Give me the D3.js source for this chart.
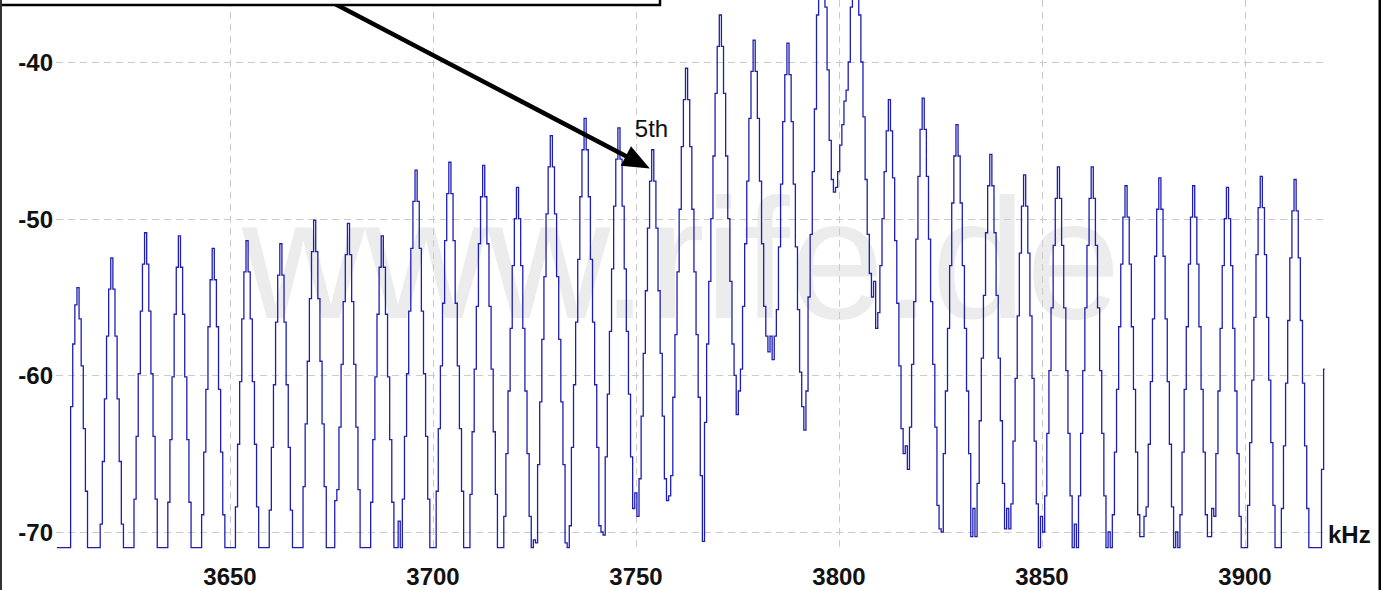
<!DOCTYPE html>
<html><head><meta charset="utf-8">
<script src="https://cdn.jsdelivr.net/npm/d3@7"></script>
<style>html,body{margin:0;padding:0;background:#fff;} svg{display:block;}</style>
</head><body>
<svg id="chart" width="1387" height="590"></svg>
<script>
// ---- data ----
const freqStartKHz = 3607.36;   // first bin of the trace
const freqStepKHz = 0.52044;    // bin spacing
const levelsDb = [
 -71,-71,-71,-71,-71,-71,-71,-62,-58,-55.5,
 -54.4,-56.4,-59.4,-63.4,-67.4,-71,-71,-71,-71,-71,-71,-69.5,-65.5,-61.5,-57.5,-54.5,
 -52.5,-54.5,-57.5,-61.5,-65.5,-69.5,-71,-71,-71,-71,-71,-67.9,-63.9,-59.9,-55.9,-52.9,
 -50.9,-52.9,-55.9,-59.9,-63.9,-67.9,-71,-71,-71,-71,-71,-68.1,-64.1,-60.1,-56.1,-53.1,
 -51.1,-53.1,-56.1,-60.1,-64.1,-68.1,-71,-71,-71,-71,-71,-68.9,-64.9,-60.9,-56.9,-53.9,
 -51.9,-53.9,-56.9,-60.9,-64.9,-68.9,-71,-71,-71,-71,-71,-68.4,-64.4,-60.4,-56.4,-53.4,
 -51.4,-53.4,-56.4,-60.4,-64.4,-68.4,-71,-71,-71,-71,-71,-68.6,-64.6,-60.6,-56.6,-53.6,
 -51.6,-53.6,-56.6,-60.6,-64.6,-68.6,-71,-71,-71,-71,-71,-67.1,-63.1,-59.1,-55.1,-52.1,
 -50.1,-52.1,-55.1,-59.1,-63.1,-67.1,-71,-71,-71,-71,-68,-67.3,-63.3,-59.3,-55.3,-52.3,
 -50.3,-52.3,-55.3,-59.3,-63.3,-67.3,-71,-71,-71,-71,-71,-68.1,-64.1,-60.1,-56.1,-53.1,
 -51.1,-53.1,-56.1,-60.1,-64.1,-68.1,-71,-71,-69.3,-71,-67.9,-63.9,-59.9,-55.9,-51.9,-48.9,
 -46.9,-48.9,-51.9,-55.9,-59.9,-63.9,-67.9,-71,-71,-71,-67.4,-63.4,-59.4,-55.4,-51.4,-48.4,
 -46.4,-48.4,-51.4,-55.4,-59.4,-63.4,-67.4,-71,-71,-71,-67.6,-63.6,-59.6,-55.6,-51.6,-48.6,
 -46.6,-48.6,-51.6,-55.6,-59.6,-63.6,-67.6,-71,-71,-71,-69,-65,-61,-57,-53,-50,
 -48,-50,-53,-57,-61,-65,-69,-71,-70.5,-70.7,-65.7,-61.7,-57.7,-53.7,-49.7,-46.7,
 -44.7,-46.7,-49.7,-53.7,-57.7,-61.7,-65.7,-70.7,-71,-69.6,-64.6,-60.6,-56.6,-52.6,-48.6,-45.6,
 -43.6,-45.6,-48.6,-52.6,-56.6,-60.6,-64.6,-69.6,-70,-70.2,-65.2,-61.2,-57.2,-53.2,-49.2,-46.2,
 -44.2,-46.2,-49.2,-53.2,-57.2,-61.2,-65.2,-68.5,-67.5,-69,-66.6,-62.6,-58.6,-54.6,-50.6,-47.6,
 -45.6,-47.6,-50.6,-54.6,-58.6,-62.6,-66.6,-68,-67.7,-66.4,-61.4,-57.4,-53.4,-49.4,-45.4,-42.4,
 -40.4,-42.4,-45.4,-49.4,-53.4,-57.4,-61.4,-66.4,-70.6,-63,-58,-54,-50,-46,-42,-39,
 -37,-39,-42,-46,-50,-54,-58,-60,-62.5,-61,-59.6,-55.6,-51.6,-47.6,-43.6,-40.6,
 -38.6,-40.6,-43.6,-47.6,-51.6,-55.6,-57.5,-58.5,-57.5,-59,-57.5,-55.8,-51.8,-47.8,-43.8,-40.8,
 -38.8,-40.8,-43.8,-47.8,-51.8,-55.8,-59.8,-62,-63.5,-61,-55,-51,-47,-43,-37,-35,
 -34,-35,-36.5,-40.5,-45,-47.5,-48.3,-48,-47,-45.3,-44,-42.5,-41.8,-40,-36.5,-34.8,
 -34.5,-35.5,-37,-40,-43.5,-47.5,-51,-53.5,-55,-54,-57,-56,-53,-50,-47,-44.4,
 -42.4,-44.4,-47.4,-51.4,-55.4,-59.4,-63.4,-65,-64.5,-66,-63.3,-59.3,-55.3,-51.3,-47.3,-44.3,
 -42.3,-44.3,-47.3,-51.3,-55.3,-59.3,-63.3,-68.3,-69.8,-70,-65,-61,-57,-53,-49,-46,
 -44,-46,-49,-53,-57,-61,-65,-70.3,-68.5,-70.3,-66.9,-62.9,-58.9,-54.9,-50.9,-47.9,
 -45.9,-47.9,-50.9,-54.9,-58.9,-62.9,-66.9,-69.8,-68.5,-69.8,-68.2,-64.2,-60.2,-56.2,-52.2,-49.2,
 -47.2,-49.2,-52.2,-56.2,-60.2,-64.2,-68.2,-71,-69,-70,-67.7,-63.7,-59.7,-55.7,-51.7,-48.7,
 -46.7,-48.7,-51.7,-55.7,-59.7,-63.7,-67.7,-71,-69.5,-71,-67.7,-63.7,-59.7,-55.7,-51.7,-48.7,
 -46.7,-48.7,-51.7,-55.7,-59.7,-63.7,-67.7,-71,-70,-71,-68.9,-64.9,-60.9,-56.9,-52.9,-49.9,
 -47.9,-49.9,-52.9,-56.9,-60.9,-64.9,-68.9,-70.3,-70.3,-69,-68.4,-64.4,-60.4,-56.4,-52.4,-49.4,
 -47.4,-49.4,-52.4,-56.4,-60.4,-64.4,-68.4,-71,-70,-71,-68.9,-64.9,-60.9,-56.9,-52.9,-49.9,
 -47.9,-49.9,-52.9,-56.9,-60.9,-64.9,-68.9,-70.3,-70.3,-68.5,-69,-65,-61,-57,-53,-50,
 -48,-50,-53,-57,-61,-65,-69,-71,-71,-71,-68.3,-64.3,-60.3,-56.3,-52.3,-49.3,
 -47.3,-49.3,-52.3,-56.3,-60.3,-64.3,-68.3,-71,-71,-71,-68.5,-64.5,-60.5,-56.5,-52.5,-49.5,
 -47.5,-49.5,-52.5,-56.5,-60.5,-64.5,-68.5,-71,-71,-71,-71,-71,-71,-66,-59.6
];
const xTickValues = [3650, 3700, 3750, 3800, 3850, 3900];
const yTickValues = [-40, -50, -60, -70];
const yTickLabels = ["-40", "-50", "-60", "-70"];
const xUnitLabel = "kHz";
const markerText = "5th";
const markerTipFreq = 3753.4;
const markerTipDb = -46.8;
const watermarkText = "www.rife.de";

// ---- drawing ----
const svg = d3.select("#chart");
const x = d3.scaleLinear().domain([3650, 3900]).range([230, 1245]);
const y = d3.scaleLinear().domain([-70, -40]).range([532, 62]);
const FONT = "'Liberation Sans', Arial, Helvetica, sans-serif";

svg.append("rect").attr("width", 1387).attr("height", 590).attr("fill", "#fff");

// watermark
svg.append("text").attr("x", 242).attr("y", 318)
  .attr("font-family", FONT).attr("font-size", 170).attr("fill", "#ececec")
  .text(watermarkText);

// grid
const grid = svg.append("g").attr("stroke", "#cbcbcb").attr("stroke-width", 1)
  .attr("stroke-dasharray", "7,5").attr("fill", "none");
grid.selectAll("line.h").data(yTickValues).join("line").attr("class", "h")
  .attr("x1", 56).attr("x2", 1326)
  .attr("y1", d => Math.round(y(d)) + 0.5).attr("y2", d => Math.round(y(d)) + 0.5);
grid.selectAll("line.v").data(xTickValues).join("line").attr("class", "v")
  .attr("x1", d => Math.round(x(d)) + 0.5).attr("x2", d => Math.round(x(d)) + 0.5)
  .attr("y1", 0).attr("y2", 548);

// trace
const pts = levelsDb.map((v, i) => [freqStartKHz + i * freqStepKHz, v]);
const line = d3.line().x(d => x(d[0])).y(d => y(d[1])).curve(d3.curveStep);
svg.append("path").datum(pts).attr("d", line)
  .attr("fill", "none").attr("stroke", "#1e1eb4").attr("stroke-width", 1.3)
  .attr("stroke-linejoin", "miter");

// axis labels
svg.append("g").selectAll("text").data(yTickValues).join("text")
  .attr("x", 53).attr("y", d => y(d) + 9)
  .attr("text-anchor", "end").attr("font-family", FONT).attr("font-weight", "bold")
  .attr("font-size", 24).attr("fill", "#111")
  .text((d, i) => yTickLabels[i]);
svg.append("g").selectAll("text").data(xTickValues).join("text")
  .attr("x", d => x(d)).attr("y", 585)
  .attr("text-anchor", "middle").attr("font-family", FONT).attr("font-weight", "bold")
  .attr("font-size", 24).attr("fill", "#111")
  .text(d => d);
svg.append("text").attr("x", 1328).attr("y", 543)
  .attr("font-family", FONT).attr("font-weight", "bold").attr("font-size", 24)
  .attr("fill", "#111").text(xUnitLabel);

// annotation arrow
const tipX = x(markerTipFreq), tipY = y(markerTipDb);
const tailX = 318, tailY = -5;
const dx = tipX - tailX, dy = tipY - tailY, len = Math.hypot(dx, dy);
const ux = dx / len, uy = dy / len;
const headLen = 27, headHalf = 11;
const bx = tipX - ux * headLen, by = tipY - uy * headLen;
svg.append("line").attr("x1", tailX).attr("y1", tailY)
  .attr("x2", bx + ux * 2).attr("y2", by + uy * 2)
  .attr("stroke", "#000").attr("stroke-width", 4.5);
svg.append("path")
  .attr("d", `M${tipX},${tipY}L${bx - uy * headHalf},${by + ux * headHalf}L${bx + uy * headHalf},${by - ux * headHalf}Z`)
  .attr("fill", "#000");
svg.append("text").attr("x", tipX - 15).attr("y", tipY - 32)
  .attr("font-family", FONT).attr("font-size", 24).attr("fill", "#111")
  .text(markerText);

// annotation box (mostly off-canvas) and frame
svg.append("rect").attr("x", -5).attr("y", -60).attr("width", 665).attr("height", 65)
  .attr("fill", "#fff").attr("stroke", "#000").attr("stroke-width", 2.5);
svg.append("line").attr("x1", 1).attr("x2", 1).attr("y1", 0).attr("y2", 590)
  .attr("stroke", "#333").attr("stroke-width", 2);
svg.append("line").attr("x1", 1379.75).attr("x2", 1379.75).attr("y1", 0).attr("y2", 590)
  .attr("stroke", "#000").attr("stroke-width", 2.5);
</script>
</body></html>
